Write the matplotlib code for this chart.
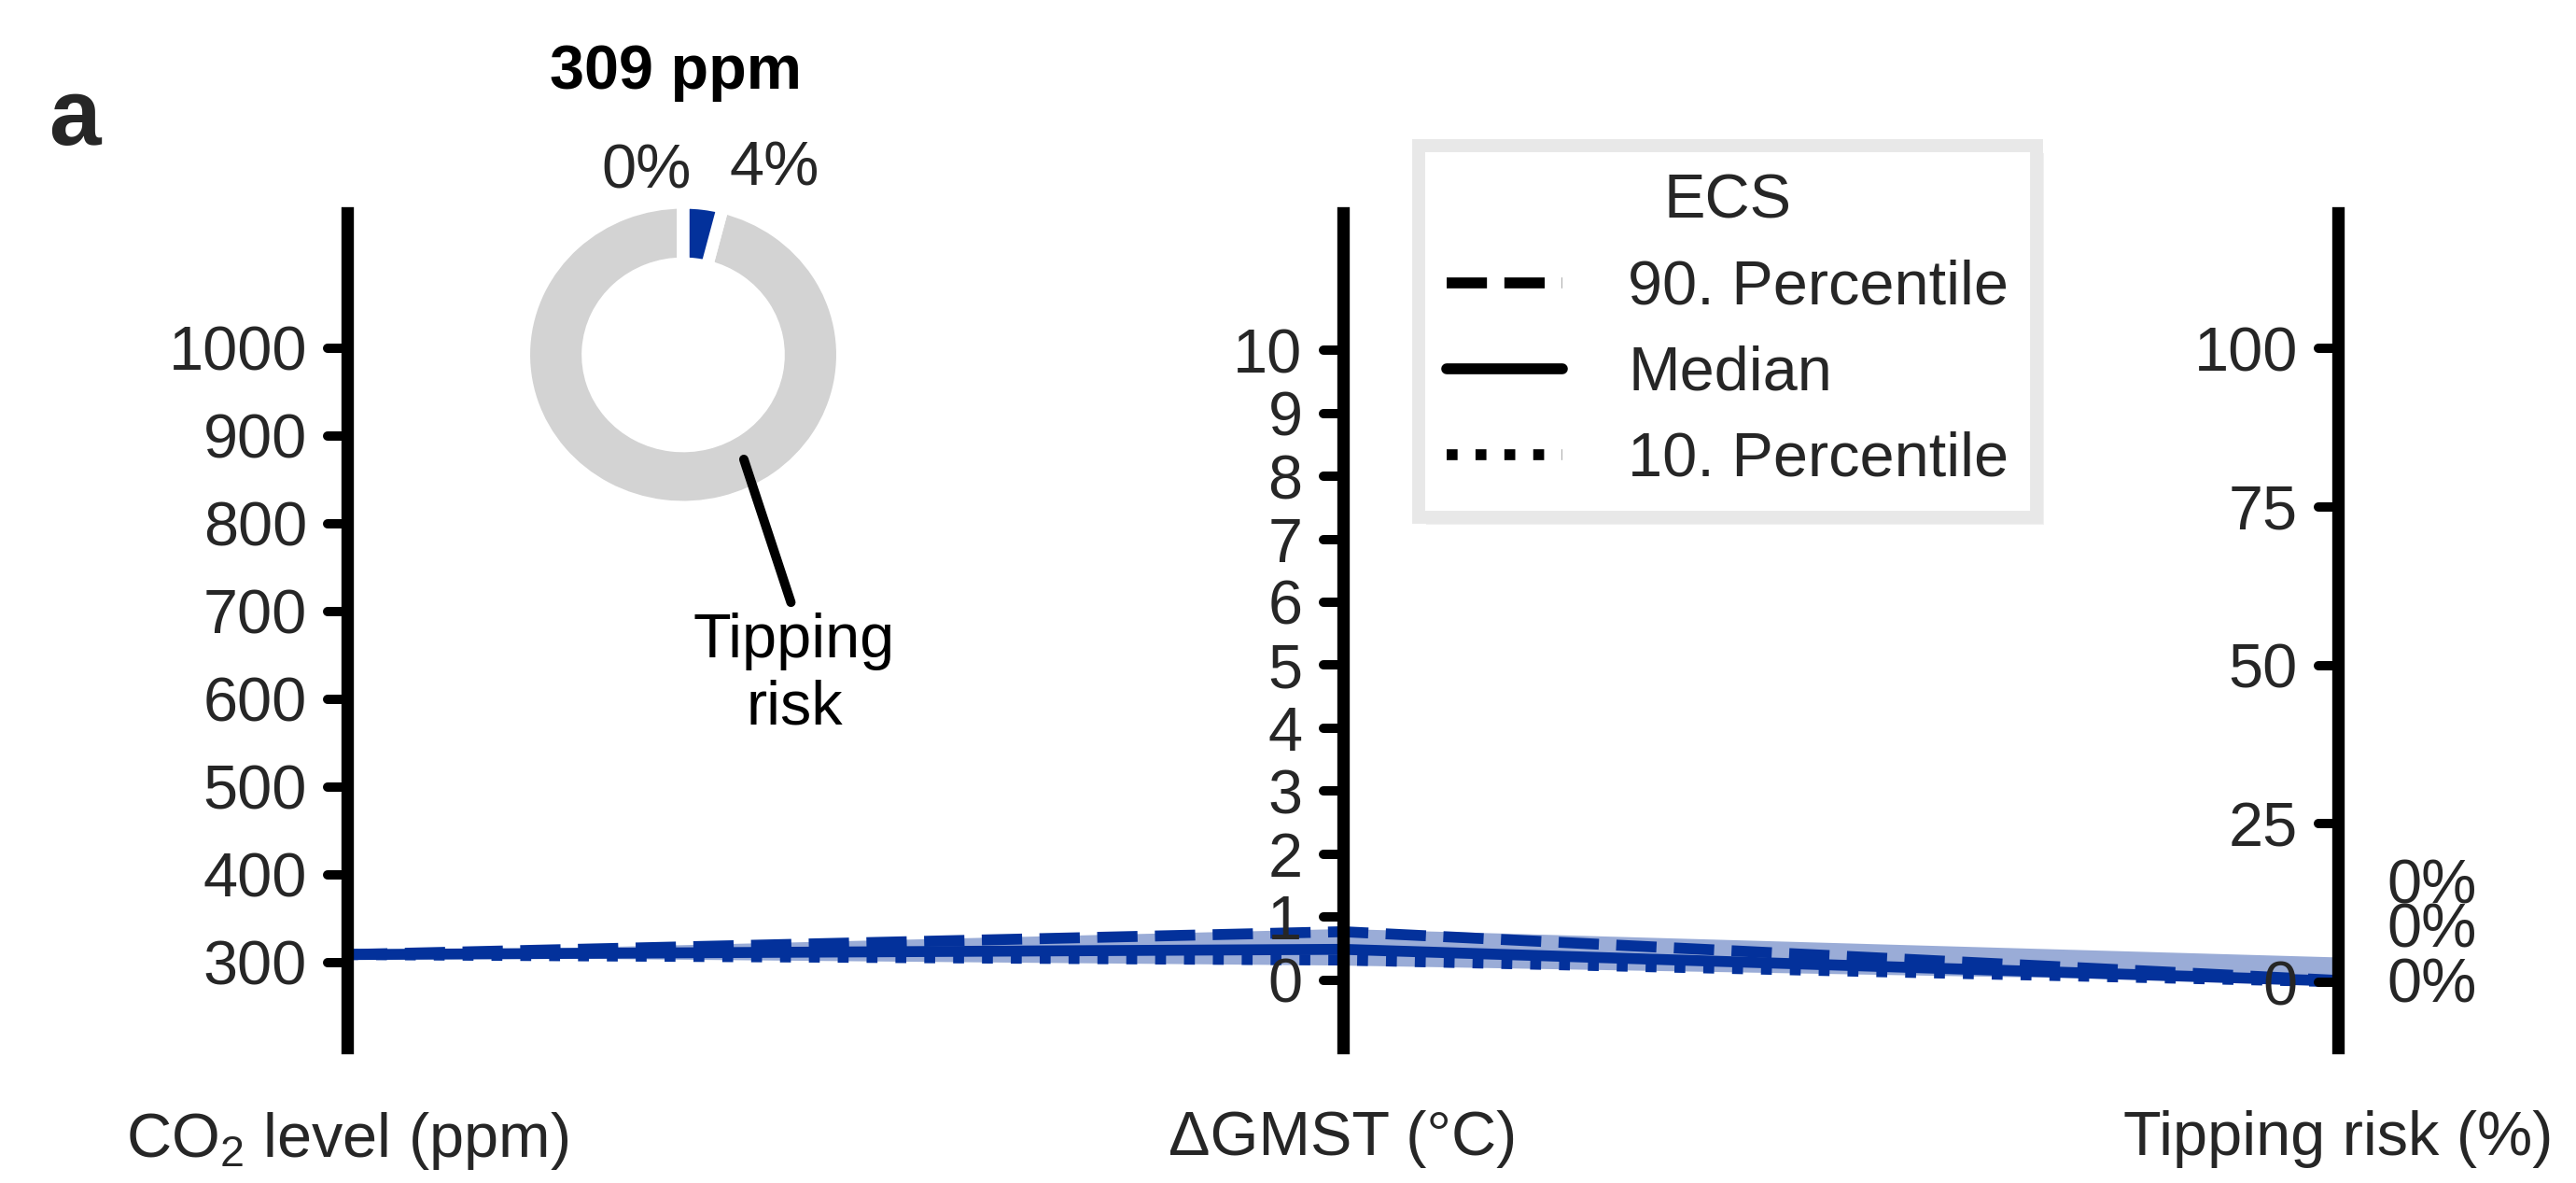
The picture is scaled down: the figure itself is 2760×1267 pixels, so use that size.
import matplotlib
matplotlib.use("Agg")
import matplotlib.pyplot as plt
from matplotlib.lines import Line2D
from matplotlib.markers import MarkerStyle, TICKLEFT, TICKRIGHT

plt.rcParams["font.family"] = ["Liberation Sans", "DejaVu Sans"]
plt.rcParams["mathtext.fontset"] = "custom"
plt.rcParams["mathtext.rm"] = "Liberation Sans"
plt.rcParams["mathtext.it"] = "Liberation Sans:italic"
plt.rcParams["mathtext.bf"] = "Liberation Sans:bold"

BLUE = "#03319b"
DARK = "#262626"
FS = 24

# ---- data ----
axis_names = ["CO$_2$ level (ppm)", "ΔGMST (°C)", "Tipping risk (%)"]
co2_ticks = [300, 400, 500, 600, 700, 800, 900, 1000]
gmst_ticks = [0, 1, 2, 3, 4, 5, 6, 7, 8, 9, 10]
risk_ticks = [0, 25, 50, 75, 100]
axis_limits = [(203, 1154), (-1.07, 12.18), (-10.3, 121.4)]

ecs_p90 = [309, 0.77, 0.3]
ecs_median = [309, 0.49, 0.2]
ecs_p10 = [309, 0.32, 0.1]
band_low = [307, 0.24, 0.0]
band_high = [311, 0.82, 4.0]

co2_level = 309
risk_low = 0    # %
risk_high = 4   # %
legend_labels = ["90. Percentile", "Median", "10. Percentile"]


def to_host(values):
    # map every axis value onto the CO2 (host) scale, parallel-coordinates style
    lo0, hi0 = axis_limits[0]
    return [lo0 + (v - lo) / (hi - lo) * (hi0 - lo0)
            for v, (lo, hi) in zip(values, axis_limits)]


fig = plt.figure(figsize=(13.8, 6.335), dpi=200)
ax = fig.add_axes([372 / 2760, 1 - 1122 / 1267, (2505 - 372) / 2760, (1122 - 228) / 1267])

x = [0, 1, 2]
ax.fill_between(x, to_host(band_low), to_host(band_high), color=BLUE, alpha=0.4, lw=0, zorder=1)
ax.plot(x, to_host(ecs_p90), color=BLUE, lw=4.2, ls="--", zorder=2)
ax.plot(x, to_host(ecs_median), color=BLUE, lw=4.2, solid_capstyle="round", zorder=2)
ax.plot(x, to_host(ecs_p10), color=BLUE, lw=4.2, ls=":", zorder=2)
ax.set_xlim(0, 2)
ax.set_ylim(*axis_limits[0])
ax.set_xticks(x, axis_names)
ax.set_yticks(co2_ticks)
for s in ["top", "right", "bottom"]:
    ax.spines[s].set_visible(False)
ax.spines["left"].set_linewidth(4.8)
ax.tick_params(axis="x", length=1.5, width=2.5, color="#999999", pad=22.5,
               labelsize=FS, labelcolor=DARK)

axes_y = [ax]
for pos, ticks, lim in [(0.5, gmst_ticks, axis_limits[1]), (1.0, risk_ticks, axis_limits[2])]:
    t = ax.twinx()
    t.set_ylim(*lim)
    t.yaxis.tick_left()
    t.spines["left"].set_position(("axes", pos))
    t.spines["left"].set_visible(True)
    t.spines["left"].set_linewidth(4.8)
    for s in ["top", "right", "bottom"]:
        t.spines[s].set_visible(False)
    t.set_yticks(ticks)
    axes_y.append(t)

for a in axes_y:
    a.tick_params(axis="y", length=7.5, width=3.6, pad=8, labelsize=FS,
                  color="black", labelcolor=DARK)

risk_ax = axes_y[2]
risk_ax.set_yticks([0], minor=True)
risk_ax.tick_params(axis="y", which="minor", left=True, right=True, length=7.5,
                    width=3.6, labelleft=False, labelright=False, color="black")

for a in axes_y:
    for tk in a.yaxis.get_major_ticks() + a.yaxis.get_minor_ticks():
        tk.tick1line.set_marker(MarkerStyle(TICKLEFT, capstyle="round"))
        tk.tick2line.set_marker(MarkerStyle(TICKRIGHT, capstyle="round"))

# end labels on the tipping axis
for series, dy in zip([ecs_p90, ecs_median, ecs_p10], [36, 19, -2]):
    v = series[2]
    risk_ax.annotate(f"{v:.0f}%", xy=(2, v), xytext=(19, dy), textcoords="offset points",
                     ha="left", va="center", fontsize=FS, color=DARK, annotation_clip=False)

# donut inset
pax = fig.add_axes([561.5 / 2760, 1 - 543 / 1267, 341 / 2760, 326 / 1267])
shares = [100 - risk_high, risk_high - risk_low, risk_low]
pax.pie(shares, colors=["lightgrey", BLUE, BLUE], startangle=90, counterclock=True,
        radius=1, wedgeprops=dict(width=0.4, edgecolor="white", linewidth=4.7))
pax.set_aspect("auto")
pax.set_xlim(-1, 1)
pax.set_ylim(-1, 1)
pax.text(0.053, 1.2, f"{risk_low}%", ha="right", va="center", fontsize=FS, color=DARK)
pax.text(0.293, 1.22, f"{risk_high}%", ha="left", va="center", fontsize=FS, color=DARK)
pax.annotate("Tipping\nrisk", xy=(0.381, -0.687), xytext=(0.698, -1.693),
             ha="center", va="top", fontsize=FS, color="black", annotation_clip=False,
             arrowprops=dict(arrowstyle="-", color="black", lw=3.6, capstyle="round",
                             shrinkA=2, shrinkB=0, relpos=(0.5, 1.0)))

fig.text(724 / 2760, 1 - 95 / 1267, f"{co2_level} ppm", ha="center", va="baseline",
         fontsize=FS, fontweight="bold", color="black")
fig.text(52 / 2760, 1 - 155 / 1267, "a", ha="left", va="baseline",
         fontsize=36, fontweight="bold", color=DARK)

handles = [Line2D([], [], color="black", lw=4.2, ls="--"),
           Line2D([], [], color="black", lw=4.2, solid_capstyle="round"),
           Line2D([], [], color="black", lw=4.2, ls=":")]
leg = fig.legend(handles, legend_labels, title="ECS", loc="upper left",
                 bbox_to_anchor=(1520 / 2760, 1 - 156 / 1267), borderaxespad=0,
                 fontsize=FS, title_fontsize=FS, handlelength=1.86, handletextpad=1.05,
                 labelspacing=0.45, borderpad=0.45, fancybox=False, framealpha=1,
                 edgecolor="#e8e8e8", labelcolor=DARK,
                 shadow=dict(ox=3, oy=-3, facecolor="#f0f0f0", edgecolor="none", alpha=1))
leg.get_frame().set_linewidth(5.0)
leg.get_title().set_color(DARK)

fig.savefig("out.png", dpi=200)
